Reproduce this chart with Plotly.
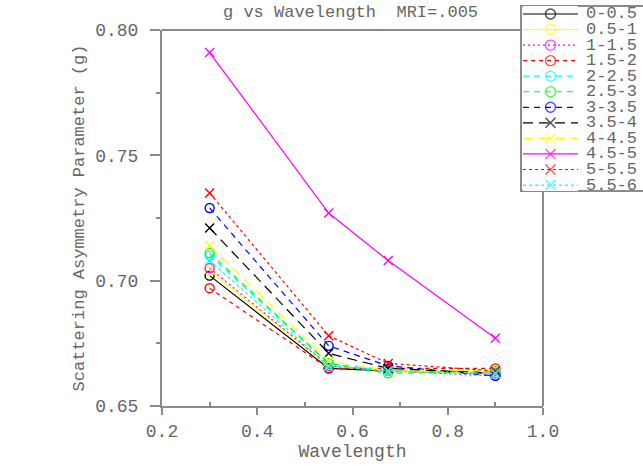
import plotly.graph_objects as go

# Wavelengths (microns) and g values for each size bin
wavelength = [0.3, 0.55, 0.675, 0.9]

bins = ["0-0.5", "0.5-1", "1-1.5", "1.5-2", "2-2.5", "2.5-3",
        "3-3.5", "3.5-4", "4-4.5", "4.5-5", "5-5.5", "5.5-6"]

g_0_05 = [0.702, 0.665, 0.664, 0.663]
g_05_1 = [0.704, 0.666, 0.664, 0.664]
g_1_15 = [0.705, 0.666, 0.664, 0.662]
g_15_2 = [0.697, 0.665, 0.665, 0.665]
g_2_25 = [0.710, 0.667, 0.664, 0.663]
g_25_3 = [0.711, 0.667, 0.663, 0.664]
g_3_35 = [0.729, 0.674, 0.666, 0.662]
g_35_4 = [0.721, 0.671, 0.665, 0.663]
g_4_45 = [0.714, 0.668, 0.664, 0.663]
g_45_5 = [0.791, 0.727, 0.708, 0.677]
g_5_55 = [0.735, 0.678, 0.667, 0.664]
g_55_6 = [0.708, 0.666, 0.664, 0.663]

series = [g_0_05, g_05_1, g_1_15, g_15_2, g_2_25, g_25_3,
          g_3_35, g_35_4, g_4_45, g_45_5, g_5_55, g_55_6]

colors = ["#000000", "#ffff00", "#ff00ff", "#ff0000", "#00ffff", "#00ff00",
          "#0000ff", "#000000", "#ffff00", "#ff00ff", "#ff0000", "#00ffff"]
dashes = ["solid", "solid", "2px,3px", "4px,4px", "6px,5px", "6px,5px",
          "6px,5px", "10px,6px", "10px,6px", "solid", "3px,3px", "3px,3px"]
symbols = ["circle-open"] * 7 + ["x-thin-open"] * 5

W, H = 643, 468
FONT = "Liberation Mono, Courier New, monospace"
GREY = "#666666"
AXIS = "#8a8a8a"

# plot frame in pixels
PX0, PX1, PY0, PY1 = 162, 543, 30, 406
def px(x):
    return x / W
def py(y):
    return 1 - y / H

fig = go.Figure()

for name, vals, c, d, s in zip(bins, series, colors, dashes, symbols):
    fig.add_trace(go.Scatter(
        x=wavelength, y=vals, mode="lines+markers", name=name,
        line=dict(color=c, width=1.2, dash=d),
        marker=dict(symbol=s, size=9, color=c, line=dict(color=c, width=1.4)),
        showlegend=False, xaxis="x", yaxis="y",
    ))

# key box entries: short line sample with marker in the middle
LEG_TOP, LEG_BOT = 6, 191
ITEM0, STEP = 14, 15.55
n_items = (LEG_BOT - LEG_TOP) / STEP
r_top = -(ITEM0 - LEG_TOP) / STEP
for i, (name, c, d, s) in enumerate(zip(bins, colors, dashes, symbols)):
    fig.add_trace(go.Scatter(
        x=[0, 0.5, 1], y=[i, i, i], mode="lines+markers",
        line=dict(color=c, width=1.2, dash=d),
        marker=dict(symbol=s, size=[0, 10, 0], color=c, line=dict(color=c, width=1.4)),
        showlegend=False, hoverinfo="skip", xaxis="x2", yaxis="y2",
    ))

annotations = [
    dict(text="g vs Wavelength  MRI=.005", x=px(350), y=py(12), xref="paper", yref="paper",
         yanchor="middle", showarrow=False, font=dict(family=FONT, size=17, color=GREY)),
]
for i, name in enumerate(bins):
    annotations.append(dict(text=name, x=px(584), y=i, xref="paper", yref="y2",
                            xanchor="left", yanchor="middle", showarrow=False,
                            font=dict(family=FONT, size=17, color=GREY)))

shapes = [
    # top and right frame lines, stopping at the key box
    dict(type="line", xref="paper", yref="paper", x0=px(PX0), x1=px(521), y0=py(PY0), y1=py(PY0),
         line=dict(color=AXIS, width=2)),
    dict(type="line", xref="paper", yref="paper", x0=px(PX1), x1=px(PX1), y0=py(LEG_BOT), y1=py(PY1),
         line=dict(color=AXIS, width=2)),
    # key box
    dict(type="rect", xref="paper", yref="paper", x0=px(521), x1=px(660), y0=py(LEG_BOT), y1=py(LEG_TOP),
         line=dict(color=AXIS, width=2), fillcolor="white", layer="below"),
]

fig.update_layout(
    width=W, height=H, margin=dict(l=0, r=0, t=0, b=0, autoexpand=False),
    paper_bgcolor="white", plot_bgcolor="white",
    font=dict(family=FONT, size=18, color=GREY),
    annotations=annotations, shapes=shapes,
    xaxis=dict(domain=[px(PX0), px(PX1)], range=[0.2, 1.0], tickvals=[0.2, 0.4, 0.6, 0.8, 1.0],
               ticktext=["0.2", "0.4", "0.6", "0.8", "1.0"],
               showgrid=False, zeroline=False, showline=True, linecolor=AXIS, linewidth=2,
               ticks="outside", ticklen=7, tickwidth=2, tickcolor=AXIS,
               minor=dict(tickvals=[0.3, 0.5, 0.7, 0.9], ticks="inside", ticklen=4, tickwidth=2, tickcolor=AXIS),
               tickfont=dict(family=FONT, size=18, color=GREY), ticklabelstandoff=0,
               title=dict(text="Wavelength", font=dict(family=FONT, size=18, color=GREY), standoff=2),
               anchor="y", automargin=False),
    yaxis=dict(domain=[py(PY1), py(PY0)], range=[0.65, 0.80], tickvals=[0.65, 0.70, 0.75, 0.80],
               ticktext=["0.65", "0.70", "0.75", "0.80"],
               showgrid=False, zeroline=False, showline=True, linecolor=AXIS, linewidth=2,
               ticks="outside", ticklen=10, tickwidth=2, tickcolor=AXIS,
               minor=dict(tickvals=[0.675, 0.725, 0.775], ticks="outside", ticklen=4, tickwidth=2, tickcolor=AXIS),
               tickfont=dict(family=FONT, size=18, color=GREY), ticklabelstandoff=8,
               title=dict(text="Scattering Asymmetry Parameter (g)",
                          font=dict(family=FONT, size=17, color=GREY), standoff=6),
               anchor="x", automargin=False),
    xaxis2=dict(domain=[px(523), px(578)], range=[0, 1], visible=False, anchor="y2"),
    yaxis2=dict(domain=[py(LEG_BOT), py(LEG_TOP)], range=[r_top + n_items, r_top],
                visible=False, anchor="x2"),
    showlegend=False,
)

fig.write_html("out.html")
